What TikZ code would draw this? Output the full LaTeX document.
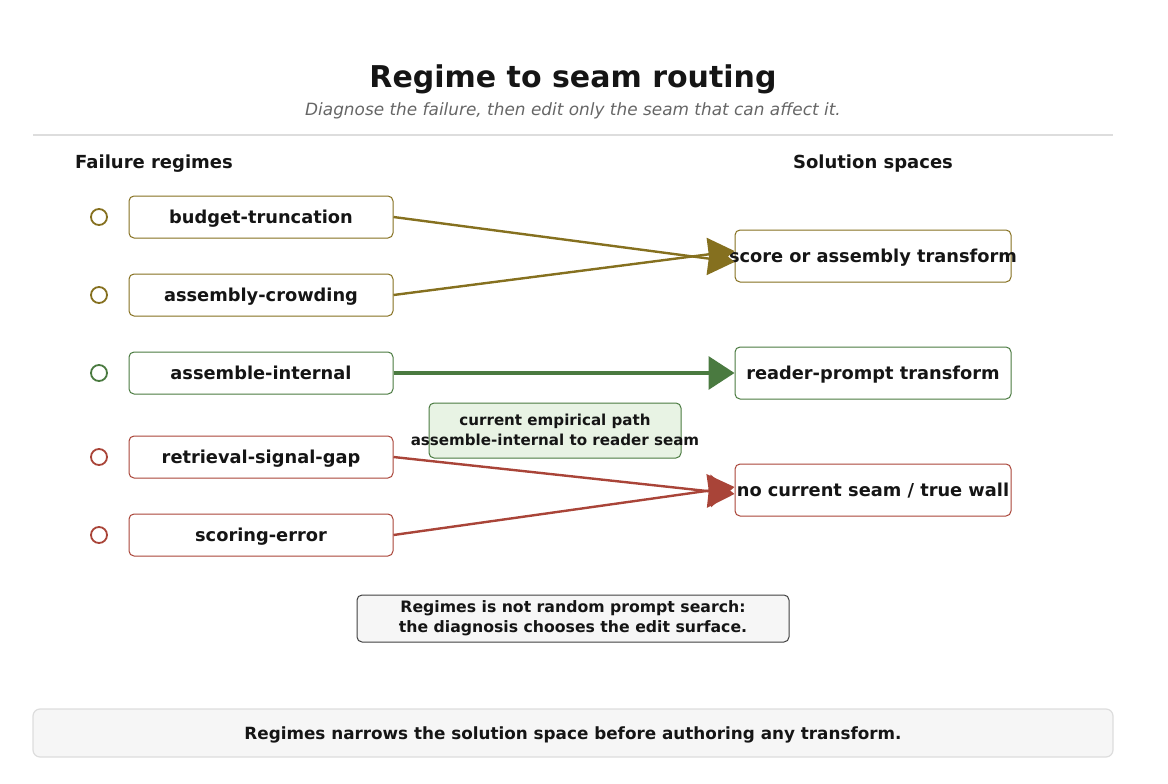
\documentclass[tikz,border=0pt]{standalone}
\usepackage{fontspec}
\setmainfont{DejaVu Sans}
\usetikzlibrary{arrows.meta}
\definecolor{olive}{HTML}{85701F}
\definecolor{grn}{HTML}{4A7A40}
\definecolor{rd}{HTML}{A94438}
\definecolor{ink}{HTML}{151515}
\definecolor{annfill}{HTML}{E8F3E4}
\definecolor{notefill}{HTML}{F6F6F6}
\definecolor{rule}{HTML}{DDDDDD}
\tikzset{
  lbox/.style={draw=#1, line width=1pt, rounded corners=5pt, minimum width=264pt, minimum height=42pt, inner sep=0pt, text depth=0pt, fill=white, text=ink, font=\fontsize{17.8}{20}\selectfont\bfseries},
  rbox/.style={draw=#1, line width=1pt, rounded corners=5pt, minimum width=276pt, minimum height=52pt, inner sep=0pt, text depth=0pt, fill=white, text=ink, font=\fontsize{17.8}{20}\selectfont\bfseries},
  dot/.style={draw=#1, line width=1.8pt, circle, minimum size=16pt, inner sep=0pt},
  link/.style={draw=#1, line width=2.4pt, -{Triangle[length=26pt,width=33pt]}},
  head/.style={font=\fontsize{18}{20}\selectfont\bfseries, text=ink, inner sep=0pt, text depth=0pt},
}
\begin{document}
\begin{tikzpicture}[x=1pt,y=-1pt]
\useasboundingbox (0,0) rectangle (1168,784);
% title
\node[font=\fontsize{30}{34}\selectfont\bfseries, text=ink, text depth=0pt] (title) at (573,76) {Regime to seam routing};
\node[font=\fontsize{16.9}{20}\selectfont\itshape, text=black!60, text depth=0pt] (sub) at (573,109) {Diagnose the failure, then edit only the seam that can affect it.};
\draw[rule, line width=1.2pt] (33,135) coordinate (r0) -- (1113,135) coordinate (r1);
% headers
\node[head, anchor=west] (hl) at (75,162) {Failure regimes};
\node[head] (hr) at (873,162) {Solution spaces};
% left
\node[lbox=olive] (l1) at (261,217) {budget-truncation};
\node[lbox=olive] (l2) at (261,295) {assembly-crowding};
\node[lbox=grn] (l3) at (261,373) {assemble-internal};
\node[lbox=rd] (l4) at (261,457) {retrieval-signal-gap};
\node[lbox=rd] (l5) at (261,535) {scoring-error};
\node[dot=olive] (c1) at (99,217) {};
\node[dot=olive] (c2) at (99,295) {};
\node[dot=grn] (c3) at (99,373) {};
\node[dot=rd] (c4) at (99,457) {};
\node[dot=rd] (c5) at (99,535) {};
% right
\node[rbox=olive] (s1) at (873,256) {\makebox[0pt]{score or assembly transform}};
\node[rbox=grn] (s2) at (873,373) {\makebox[0pt]{reader-prompt transform}};
\node[rbox=rd] (s3) at (873,490) {\makebox[0pt]{no current seam / true wall}};
% links
\draw[link=olive] (l1.east) -- ([yshift=-6pt]s1.west);
\draw[link=olive] (l2.east) -- ([yshift=5pt]s1.west);
\draw[link=grn, line width=3.4pt] (l3.east) -- (s2.west);
\draw[link=rd] (l4.east) -- ([yshift=-4pt]s3.west);
\draw[link=rd] (l5.east) -- ([yshift=3pt]s3.west);
% annotation
\node[draw=grn, fill=annfill, line width=1pt, rounded corners=5pt, minimum width=252pt, minimum height=55pt, inner sep=0pt] (ann) at (555,430.5) {};
\node[font=\fontsize{15.1}{20}\selectfont\bfseries, text=ink, align=center] (anntext) at ([yshift=1pt]ann.center) {current empirical path\\assemble-internal to reader seam};
% note
\node[draw=black!75, fill=notefill, line width=1pt, rounded corners=5pt, minimum width=432pt, minimum height=47pt, inner sep=0pt, font=\fontsize{15.7}{20}\selectfont\bfseries, text=ink, align=center] (note) at (573,618.5) {Regimes is not random prompt search:\\the diagnosis chooses the edit surface.};
% banner
\node[draw=rule, fill=notefill, line width=1.2pt, rounded corners=7pt, minimum width=1080pt, minimum height=48pt, inner sep=0pt, text depth=0pt, font=\fontsize{16.8}{20}\selectfont\bfseries, text=ink] (banner) at (573,733) {Regimes narrows the solution space before authoring any transform.};
\end{tikzpicture}
\end{document}
